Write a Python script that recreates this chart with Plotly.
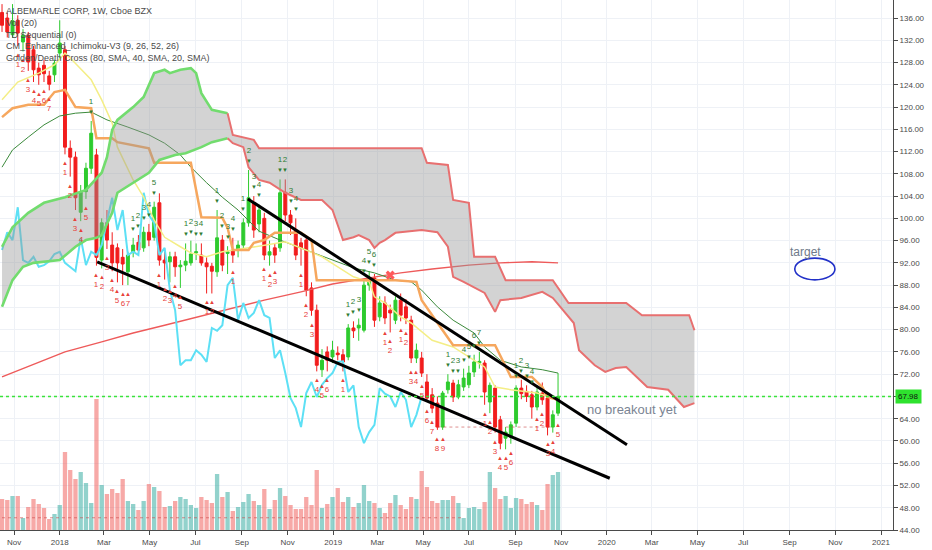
import pandas as pd
import plotly.graph_objects as go

# ALB weekly bars, one bar per week starting 2017-10-16
first_bar = "2017-10-16"

bar_open = [137.0, 136.0, 133.0, 135.6, 131.7, 132.9, 130.3, 127.0, 127.5, 125.6,
            125.8, 129.7, 130.3, 112.6, 111.0, 101.1, 104.8, 109.0, 111.4, 92.5,
            99.2, 95.2, 94.7, 93.0, 90.4, 94.0, 95.7, 94.7, 97.5, 96.6,
            102.8, 92.5, 92.2, 93.1, 91.3, 91.6, 92.0, 93.8, 93.4, 92.0,
            91.4, 90.4, 96.1, 93.7, 94.3, 94.3, 95.2, 99.2, 102.8, 99.0,
            100.0, 93.4, 94.7, 94.7, 104.7, 100.6, 97.9, 95.6, 96.1, 87.5,
            83.5, 72.8, 76.0, 75.1, 75.8, 75.5, 75.1, 80.3, 80.3, 79.9,
            88.0, 89.3, 82.3, 84.8, 83.5, 81.7, 85.3, 84.1, 81.7, 74.9,
            74.9, 70.6, 68.3, 66.8, 62.5, 69.2, 70.4, 67.9, 69.7, 70.1,
            72.4, 74.0, 74.0, 67.0, 69.5, 63.8, 60.5, 60.7, 63.2, 69.5,
            68.9, 68.3, 66.1, 68.6, 67.7, 62.5, 65.0]
bar_high = [138.5, 137.0, 138.5, 136.5, 134.0, 133.5, 131.0, 128.0, 128.5, 126.5,
            128.5, 135.6, 131.0, 114.0, 112.0, 106.0, 110.0, 117.5, 112.5, 100.0,
            101.5, 97.5, 95.5, 94.5, 94.0, 96.5, 97.0, 98.5, 99.0, 103.0,
            104.5, 94.0, 94.0, 94.0, 92.5, 95.5, 96.0, 95.5, 95.5, 93.0,
            92.0, 101.5, 97.0, 95.0, 96.5, 96.0, 100.0, 108.7, 104.0, 102.5,
            101.0, 96.0, 95.5, 107.0, 107.0, 101.5, 100.0, 96.5, 97.0, 88.5,
            84.5, 76.5, 77.0, 78.0, 77.0, 76.5, 81.0, 81.5, 82.0, 89.0,
            90.5, 90.0, 86.0, 86.0, 84.5, 86.0, 86.5, 85.5, 82.5, 77.5,
            76.0, 72.0, 69.5, 68.0, 69.0, 72.0, 71.0, 71.0, 73.0, 73.5,
            75.5, 76.0, 74.5, 70.5, 70.0, 64.5, 62.5, 63.5, 70.0, 71.0,
            70.0, 69.0, 70.0, 70.5, 68.5, 65.5, 72.2]
bar_low = [133.5, 132.5, 132.5, 131.0, 130.0, 126.5, 124.5, 124.0, 124.5, 123.0,
           124.5, 128.5, 111.5, 107.5, 101.5, 99.5, 103.5, 108.0, 91.5, 91.0,
           94.5, 90.5, 88.5, 88.0, 88.0, 93.0, 93.5, 94.0, 95.0, 96.0,
           91.5, 89.0, 88.5, 89.5, 87.5, 90.5, 91.5, 92.5, 91.5, 86.5,
           86.5, 89.5, 90.5, 90.0, 92.0, 93.0, 94.5, 98.5, 96.5, 97.5,
           92.5, 91.5, 92.0, 94.0, 99.5, 97.0, 92.5, 91.5, 86.0, 82.5,
           72.5, 71.5, 72.5, 74.0, 74.5, 72.5, 74.5, 78.5, 78.0, 79.5,
           87.0, 80.5, 81.5, 81.0, 79.5, 81.0, 81.5, 81.0, 74.0, 74.0,
           71.5, 67.0, 65.0, 62.0, 62.0, 68.5, 67.0, 67.5, 69.0, 69.5,
           71.5, 73.0, 66.5, 65.0, 61.5, 58.5, 58.5, 59.5, 62.5, 67.5,
           67.0, 64.0, 65.5, 66.5, 61.0, 61.5, 64.5]
bar_close = [134.7, 133.5, 135.5, 133.3, 132.9, 128.1, 126.7, 125.8, 126.0, 124.1,
             127.9, 131.5, 112.8, 111.0, 103.7, 104.7, 109.0, 115.3, 93.0, 99.2,
             96.1, 92.0, 92.0, 91.8, 93.4, 95.2, 94.3, 97.5, 96.1, 102.0,
             92.5, 92.0, 93.1, 91.3, 91.6, 92.3, 93.6, 94.0, 92.0, 91.3,
             90.5, 96.5, 91.6, 94.0, 93.4, 95.2, 99.2, 103.7, 97.9, 101.5,
             93.4, 94.0, 93.4, 104.6, 100.6, 99.2, 93.4, 94.7, 87.1, 83.5,
             73.6, 74.5, 74.5, 76.3, 75.5, 74.2, 80.3, 79.8, 80.8, 88.0,
             89.3, 81.7, 84.8, 82.1, 83.0, 85.3, 82.6, 82.1, 74.9, 76.3,
             72.2, 67.7, 65.9, 62.5, 68.6, 70.6, 67.9, 70.1, 71.3, 72.2,
             74.2, 74.3, 68.8, 70.0, 62.5, 59.6, 61.6, 62.9, 69.5, 68.5,
             68.0, 66.1, 68.8, 67.4, 62.5, 64.7, 68.0]
# volume, millions of shares
bar_volume = [3.1, 3.0, 3.4, 3.4, 1.2, 2.3, 3.1, 2.6, 2.2, 1.1,
              1.6, 2.5, 7.8, 6.0, 5.1, 5.8, 4.7, 2.7, 13.1, 4.5,
              3.6, 4.1, 3.7, 5.1, 2.9, 2.6, 2.0, 2.9, 4.6, 4.3,
              3.9, 2.3, 2.4, 2.9, 3.3, 3.1, 2.5, 2.2, 3.3, 3.0,
              2.7, 5.6, 3.3, 3.8, 1.9, 2.3, 2.8, 3.6, 2.9, 2.5,
              4.1, 2.1, 3.0, 4.2, 3.4, 2.5, 2.1, 2.1, 3.3, 2.5,
              6.0, 2.2, 2.6, 3.3, 4.2, 2.8, 3.3, 2.3, 2.7, 4.5,
              2.9, 2.7, 2.2, 1.7, 2.7, 3.5, 2.5, 2.1, 3.3, 3.1,
              5.9, 4.3, 2.9, 2.7, 3.0, 3.0, 3.4, 2.7, 1.2, 2.2,
              2.3, 2.1, 2.8, 5.8, 4.2, 3.1, 3.4, 2.2, 3.2, 3.1,
              2.6, 2.8, 2.5, 2.0, 4.6, 5.5, 5.8]

# ichimoku lines, x given as week number counted from the first bar
cloud_top_week = [0, 2, 5, 8, 12, 16, 19, 20, 21, 22, 25, 27, 29, 31, 32, 34, 36, 37, 38, 40, 43,
                  44, 48, 49, 80, 81, 85, 86, 89, 90, 94, 96, 105, 108, 119, 122, 131, 132]
cloud_top = [94.9, 98.4, 101.0, 102.8, 103.8, 105.1, 108.2, 111.0, 115.9, 117.7, 120.0, 121.8,
             126.1, 126.7, 126.1, 126.7, 127.0, 126.1, 122.5, 119.5, 118.9,
             115.0, 114.1, 112.6, 112.6, 110.0, 109.6, 103.3, 102.8, 93.1, 93.1, 88.9, 88.9,
             84.8, 84.8, 82.6, 82.6, 79.9]
cloud_bot_week = [0, 2, 4, 6, 11, 14, 16, 18, 19, 21, 22, 25, 28, 30, 33, 35, 38, 40, 43,
                  44, 46, 47, 49, 51, 54, 57, 61, 63, 65, 67, 68, 70, 71, 72, 73, 75, 80, 83, 85,
                  86, 88, 92, 94, 95, 99, 103, 105, 109, 110, 113, 115, 117, 119, 123, 127, 130, 132]
cloud_bot = [84.1, 88.9, 91.3, 92.0, 92.5, 94.9, 96.1, 96.5, 97.0, 101.0, 104.6, 106.4, 108.2,
             110.5, 111.4, 111.7, 112.8, 113.7, 114.4,
             113.5, 112.8, 109.2, 106.9, 106.4, 104.6, 103.3, 103.3, 101.5, 96.1, 96.6, 97.0,
             96.1, 94.7, 95.6, 96.1, 97.4, 97.9, 97.5, 94.9, 89.5, 88.6, 86.6, 83.2, 85.3, 85.7,
             86.8, 85.7, 81.2, 76.3, 73.6, 72.4, 73.1, 73.3, 69.7, 69.2, 66.1, 66.8]
cloud_turn_week = 43  # cloud edges turn from green to red here

kijun_week = [0, 2, 5, 8, 10, 12, 14, 17, 18, 21, 22, 28, 29, 36, 38, 42, 43, 44, 47, 48,
              50, 52, 57, 59, 60, 75, 79, 80, 84, 86, 94, 97, 101, 103, 104, 106]
kijun = [118.2, 119.8, 120.4, 120.4, 122.7, 123.1, 120.0, 119.8, 114.4, 114.4, 113.7, 112.6,
         110.0, 110.0, 100.2, 100.1, 98.3, 94.3, 94.3, 95.6, 96.1, 97.4, 97.4, 96.1, 88.9,
         88.9, 88.6, 85.3, 79.9, 77.2, 77.2, 71.5, 71.5, 69.7, 67.9, 67.4]
tenkan_week = [0, 3, 7, 10, 12, 13, 17, 19, 21, 22, 25, 27, 29, 31, 34, 36, 39, 42, 47, 54,
               58, 61, 64, 67, 70, 71, 73, 76, 78, 82, 86, 89, 92, 94, 97, 102, 106]
tenkan = [121.3, 124.5, 126.1, 127.6, 129.7, 128.8, 124.9, 121.3, 117.1, 112.8, 106.9, 103.8,
          99.7, 96.6, 94.9, 93.8, 93.1, 94.0, 94.7, 95.8, 94.3, 93.1, 91.3, 89.5, 88.6, 85.9,
          84.8, 82.3, 81.2, 78.1, 76.9, 75.1, 73.3, 69.7, 69.2, 68.6, 67.4]
lag_shift = 26

# golden/death cross moving averages
sma_fast_week = [0, 2, 5, 8, 11, 14, 17, 20, 24, 28, 31, 34, 36, 39, 42, 45, 49, 53, 58, 63,
                 67, 71, 75, 78, 80, 83, 86, 90, 92, 95, 99, 103, 106]
sma_fast = [109.2, 112.3, 114.6, 116.8, 118.4, 118.9, 119.1, 117.7, 116.4, 115.0, 113.5, 111.4,
            109.2, 106.4, 103.8, 101.5, 97.7, 96.1, 94.3, 92.5, 91.1, 90.2, 88.9, 88.6, 87.1,
            84.1, 81.7, 79.4, 76.9, 74.5, 73.3, 72.8, 72.2]
sma_slow_week = [0, 6, 12, 19, 25, 31, 38, 44, 50, 57, 63, 70, 76, 82, 89, 95, 101, 106]
sma_slow = [71.5, 73.8, 76.0, 77.8, 79.4, 80.8, 82.5, 83.9, 85.3, 86.8, 88.2, 89.3, 90.2, 90.9,
            91.6, 92.0, 92.2, 92.0]
cross_bar = 74
cross_price = 89.8

# TD sequential counts (bar index, count)
td_buy_bar = [3, 4, 5, 6, 7, 8, 9, 12, 13, 14, 15, 16, 18, 19, 20, 21, 22, 23, 24,
              30, 31, 32, 33, 34, 39, 40, 44, 50, 51, 52, 57, 58, 59, 60, 61, 62, 65,
              73, 74, 76, 77, 78, 79, 80, 81, 82, 83, 84, 92, 93, 94, 95, 96, 97,
              102, 103, 104, 105, 106]
td_buy_num = [1, 2, 3, 4, 5, 6, 7, 1, 2, 3, 4, 5, 1, 2, 3, 4, 5, 6, 7,
              1, 2, 3, 4, 5, 1, 2, 1, 1, 2, 3, 1, 2, 3, 4, 5, 6, 1,
              1, 2, 1, 2, 3, 4, 5, 6, 7, 8, 9, 1, 2, 3, 4, 5, 6,
              1, 2, 3, 4, 5]
td_sell_bar = [17, 25, 26, 27, 28, 29, 35, 36, 37, 38, 41, 42, 43, 44, 46, 47, 48, 49,
               53, 54, 55, 56, 66, 67, 68, 69, 70, 71, 85, 86, 87, 88, 89, 90, 91,
               98, 99, 100, 101]
td_sell_num = [1, 1, 2, 3, 4, 5, 1, 2, 3, 4, 1, 2, 3, 4, 1, 2, 3, 4,
               1, 2, 3, 4, 1, 2, 3, 4, 5, 6, 1, 2, 3, 4, 5, 6, 7,
               1, 2, 3, 4]
td_support = [(83, 92, 62.5), (96, 105, 62.5), (0, 88, 46.2)]

# hand drawn wedge lines
wedge_upper_x = ["2018-09-09", "2020-01-28"]
wedge_upper_y = [103.5, 59.3]
wedge_lower_x = ["2018-02-20", "2020-01-05"]
wedge_lower_y = [92.2, 53.3]

last_price = 67.98

tick_dates = ["2017-11-01", "2018-01-01", "2018-03-01", "2018-05-01", "2018-07-01",
              "2018-09-01", "2018-11-01", "2019-01-01", "2019-03-01", "2019-05-01",
              "2019-07-01", "2019-09-01", "2019-11-01", "2020-01-01", "2020-03-01",
              "2020-05-01", "2020-07-01", "2020-09-01", "2020-11-01", "2021-01-01"]
tick_text = ["Nov", "2018", "Mar", "May", "Jul", "Sep", "Nov", "2019", "Mar", "May",
             "Jul", "Sep", "Nov", "2020", "Mar", "May", "Jul", "Sep", "Nov", "2021"]

header_lines = ["ALBEMARLE CORP, 1W, Cboe BZX",
                "Vol (20)",
                "TD Sequential (0)",
                "CM_Enhanced_Ichimoku-V3 (9, 26, 52, 26)",
                "Golden/Death Cross (80, SMA, 40, SMA, 20, SMA)"]


def week_dates(weeks):
    start = pd.Timestamp(first_bar)
    return [start + pd.Timedelta(weeks=w) for w in weeks]


dates = week_dates(range(len(bar_close)))
font_name = "Liberation Sans"
up_col = "#2ecb2e"
dn_col = "#f21d1d"

fig = go.Figure()

# volume in the bottom, own hidden scale
vol_colors = ["rgba(38,166,154,0.5)" if c >= o else "rgba(239,83,80,0.5)"
              for o, c in zip(bar_open, bar_close)]
fig.add_trace(go.Bar(x=dates, y=bar_volume, marker_color=vol_colors, marker_line_width=0,
                     yaxis="y2", hoverinfo="skip"))

# moving averages
fig.add_trace(go.Scatter(x=week_dates(sma_slow_week), y=sma_slow, mode="lines",
                         line=dict(color="#ee5a5a", width=1.4)))
fig.add_trace(go.Scatter(x=week_dates(sma_fast_week), y=sma_fast, mode="lines",
                         line=dict(color="#3b8a3b", width=1)))

# lagging span = close shifted back 26 weeks
fig.add_trace(go.Scatter(x=dates[:-lag_shift], y=bar_close[lag_shift:], mode="lines",
                         line=dict(color="#5de0f5", width=2)))
fig.add_trace(go.Scatter(x=week_dates(tenkan_week), y=tenkan, mode="lines",
                         line=dict(color="#f4ee86", width=1.5)))
fig.add_trace(go.Scatter(x=week_dates(kijun_week), y=kijun, mode="lines",
                         line=dict(color="#f6a75e", width=2.5)))

# cloud fill on top of the lines (as the platform does)
poly_x = week_dates(cloud_top_week) + week_dates(cloud_bot_week[::-1])
poly_y = cloud_top + cloud_bot[::-1]
fig.add_trace(go.Scatter(x=poly_x, y=poly_y, mode="lines", fill="toself",
                         fillcolor="rgba(150,150,150,0.42)", line=dict(width=0)))

for wk, val in [(cloud_top_week, cloud_top), (cloud_bot_week, cloud_bot)]:
    g = [(w, v) for w, v in zip(wk, val) if w <= cloud_turn_week]
    r = [(w, v) for w, v in zip(wk, val) if w >= cloud_turn_week]
    fig.add_trace(go.Scatter(x=week_dates([p[0] for p in g]), y=[p[1] for p in g],
                             mode="lines", line=dict(color="#72dc6e", width=2.6)))
    fig.add_trace(go.Scatter(x=week_dates([p[0] for p in r]), y=[p[1] for p in r],
                             mode="lines", line=dict(color="#e87070", width=2)))

fig.add_trace(go.Candlestick(
    x=dates, open=bar_open, high=bar_high, low=bar_low, close=bar_close,
    increasing=dict(line=dict(color=up_col, width=1), fillcolor=up_col),
    decreasing=dict(line=dict(color=dn_col, width=1), fillcolor=dn_col),
    whiskerwidth=0, hoverinfo="skip"))

fig.add_trace(go.Scatter(x=[dates[cross_bar]], y=[cross_price], mode="markers",
                         marker=dict(symbol="x", size=8, color="#ff5a5a",
                                     line=dict(width=0))))

fig.add_trace(go.Scatter(x=wedge_upper_x, y=wedge_upper_y, mode="lines",
                         line=dict(color="black", width=3)))
fig.add_trace(go.Scatter(x=wedge_lower_x, y=wedge_lower_y, mode="lines",
                         line=dict(color="black", width=3)))

ann = []
for k, n in zip(td_buy_bar, td_buy_num):
    ann.append(dict(x=dates[k], y=bar_low[k], xref="x", yref="y", showarrow=False,
                    text="<span style='font-size:6px'>▲</span><br>%d" % n,
                    yanchor="top", yshift=-4, font=dict(color="#e8403a", size=8)))
for k, n in zip(td_sell_bar, td_sell_num):
    ann.append(dict(x=dates[k], y=bar_high[k], xref="x", yref="y", showarrow=False,
                    text="%d<br><span style='font-size:6px'>▼</span>" % n,
                    yanchor="bottom", yshift=4, font=dict(color="#2f7d32", size=8)))

for i, t in enumerate(header_lines):
    ann.append(dict(x=0.004, y=1 - (11 + 11.8 * i) / 530, xref="paper", yref="paper",
                    xanchor="left", yanchor="middle", showarrow=False, text=t,
                    font=dict(family=font_name, size=9, color="#4a4a4a")))

ann.append(dict(x=0.655, y=0.21, xref="paper", yref="paper", xanchor="left",
                showarrow=False, text="no breakout yet",
                font=dict(family=font_name, size=13, color="#7b8594")))
ann.append(dict(x=0.882, y=0.525, xref="paper", yref="paper", xanchor="left",
                showarrow=False, text="target",
                font=dict(family=font_name, size=12, color="#6f7a8a")))
ann.append(dict(x=1, y=last_price, xref="paper", yref="y", xanchor="left",
                showarrow=False, text="%.2f" % last_price, bgcolor="#2ee22e",
                borderpad=2, xshift=2, font=dict(family=font_name, size=8, color="#111")))

shapes = [dict(type="line", xref="paper", x0=0, x1=1, yref="y", y0=last_price, y1=last_price,
               line=dict(color="#3be33b", width=1.5, dash="dot"), layer="above")]
for a, b, lvl in td_support:
    shapes.append(dict(type="line", xref="x", x0=dates[a], x1=dates[b], yref="y",
                       y0=lvl, y1=lvl, line=dict(color="rgba(200,70,70,0.6)", width=1,
                                                 dash="dot"), layer="above"))
shapes.append(dict(type="circle", xref="paper", yref="paper", x0=0.890, x1=0.935,
                   y0=0.472, y1=0.513, line=dict(color="#2231c8", width=1.6)))

fig.update_layout(
    width=932, height=550,
    margin=dict(l=0, r=39, t=0, b=20),
    paper_bgcolor="white", plot_bgcolor="white",
    showlegend=False,
    boxgap=0.2,
    bargap=0.18,
    annotations=ann,
    shapes=shapes,
    font=dict(family=font_name),
    xaxis=dict(type="date", range=["2017-10-13 07:00", "2021-01-17"],
               tickvals=tick_dates, ticktext=tick_text,
               showgrid=True, gridcolor="#eef1f6", gridwidth=1,
               showline=True, linecolor="#4a4a4a", linewidth=1,
               ticks="outside", ticklen=4, tickcolor="#4a4a4a",
               tickfont=dict(size=8, color="#4a4a4a"),
               rangeslider=dict(visible=False), zeroline=False, fixedrange=True),
    yaxis=dict(side="right", range=[44, 139.24], tick0=44, dtick=4, tickformat=".2f",
               showgrid=True, gridcolor="#eef1f6", gridwidth=1,
               showline=True, linecolor="#4a4a4a", linewidth=1,
               ticks="outside", ticklen=4, tickcolor="#4a4a4a",
               tickfont=dict(size=8, color="#4a4a4a"), zeroline=False, fixedrange=True),
    yaxis2=dict(overlaying="y", range=[0, 53], visible=False, fixedrange=True),
)

# the page body has a default 8px margin; drop it so the figure fills the window
fig.write_html("out.html", config={"displayModeBar": False},
               post_script="document.body.style.margin='0px';")
